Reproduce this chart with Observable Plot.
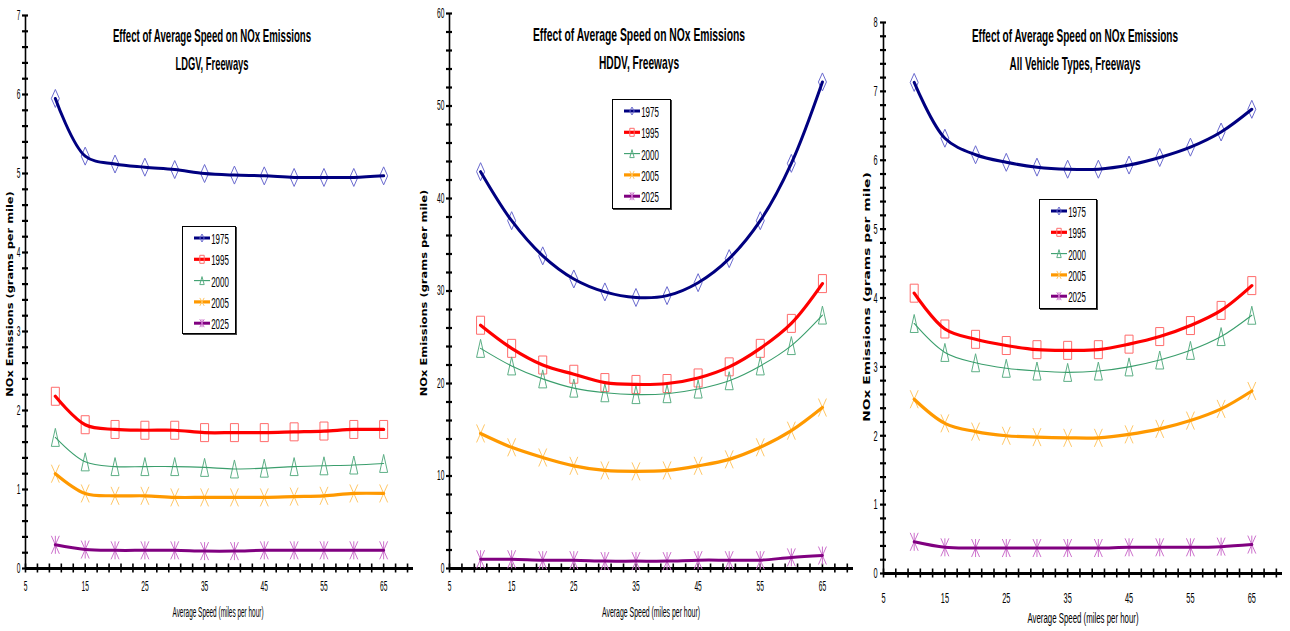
<!DOCTYPE html>
<html><head><meta charset="utf-8">
<script src="https://cdn.jsdelivr.net/npm/d3@7"></script>
<script src="https://cdn.jsdelivr.net/npm/@observablehq/plot@0.6"></script>
<style>
body{margin:0;background:#fff;}
#root{position:relative;width:1290px;height:631px;overflow:hidden;background:#fff;}
.abs{position:absolute;white-space:nowrap;line-height:1;color:#000;}
#root svg{overflow:visible;}
</style></head><body><div id="root"></div>
<script>
// ---------- data ----------
const speeds = [10,15,20,25,30,35,40,45,50,55,60,65];
const years = ["1975","1995","2000","2005","2025"];
const xTickLabels = [5,15,25,35,45,55,65];

const ldgv1975 = [5.95,5.22,5.12,5.08,5.05,5.00,4.98,4.97,4.95,4.95,4.95,4.97];
const ldgv1995 = [2.18,1.82,1.76,1.75,1.75,1.72,1.72,1.72,1.73,1.74,1.76,1.76];
const ldgv2000 = [1.66,1.35,1.29,1.29,1.29,1.28,1.26,1.27,1.29,1.30,1.31,1.33];
const ldgv2005 = [1.20,0.95,0.92,0.92,0.90,0.90,0.90,0.90,0.91,0.92,0.95,0.95];
const ldgv2025 = [0.30,0.24,0.23,0.23,0.23,0.22,0.22,0.23,0.23,0.23,0.23,0.23];

const hddv1975 = [42.9,37.6,33.8,31.3,29.9,29.3,29.5,30.9,33.5,37.6,43.8,52.6];
const hddv1995 = [26.3,23.8,22.0,21.0,20.1,19.9,20.0,20.6,21.8,23.8,26.5,30.8];
const hddv2000 = [23.8,21.9,20.5,19.5,19.0,18.8,18.9,19.4,20.3,21.9,24.1,27.4];
const hddv2005 = [14.6,13.1,12.0,11.1,10.6,10.5,10.6,11.1,11.8,13.1,14.9,17.4];
const hddv2025 = [1.0,1.0,0.9,0.9,0.8,0.8,0.8,0.9,0.9,0.9,1.2,1.4];

const all1975 = [7.13,6.32,6.08,5.97,5.90,5.87,5.87,5.93,6.04,6.19,6.41,6.74];
const all1995 = [4.07,3.55,3.40,3.31,3.25,3.24,3.25,3.33,3.44,3.60,3.82,4.18];
const all2000 = [3.63,3.21,3.06,2.98,2.94,2.92,2.94,3.00,3.10,3.24,3.44,3.75];
const all2005 = [2.53,2.18,2.06,2.00,1.98,1.97,1.97,2.02,2.10,2.22,2.39,2.65];
const all2025 = [0.46,0.38,0.37,0.37,0.37,0.37,0.37,0.38,0.38,0.38,0.39,0.42];

const mainTitle = "Effect of Average Speed on NOx Emissions";
const xLabel = "Average Speed (miles per hour)";
const yLabel = "NOx Emissions (grams per mile)";

// ---------- styles ----------
const lineColor = {"1975":"#000080","1995":"#FF0000","2000":"#3A9E6C","2005":"#FF9900","2025":"#800080"};
const lineWidth = {"1975":3,"1995":3.2,"2000":1.1,"2005":3.2,"2025":3};
const markColor = {"1975":"#6A6ACF","1995":"#FF6B6B","2000":"#5DAF86","2005":"#FFC766","2025":"#CC70CC"};

function makeSymbols(hw, hh) {
  return {
    "1975": {draw(c){c.moveTo(0,-hh);c.lineTo(hw,0);c.lineTo(0,hh);c.lineTo(-hw,0);c.closePath();}},
    "1995": {draw(c){c.moveTo(-hw,-hh);c.lineTo(hw,-hh);c.lineTo(hw,hh);c.lineTo(-hw,hh);c.closePath();}},
    "2000": {draw(c){c.moveTo(0,-hh);c.lineTo(hw,hh);c.lineTo(-hw,hh);c.closePath();}},
    "2005": {draw(c){c.moveTo(-hw,-hh);c.lineTo(hw,hh);c.moveTo(hw,-hh);c.lineTo(-hw,hh);}},
    "2025": {draw(c){c.moveTo(-hw,-hh);c.lineTo(hw,hh);c.moveTo(hw,-hh);c.lineTo(-hw,hh);c.moveTo(0,-hh);c.lineTo(0,hh);}}
  };
}
const plotSymbols = makeSymbols(4, 9);
const legendSymbols = makeSymbols(2.2, 4);

const FONT_N = '"Liberation Sans Narrow","Arial Narrow","Liberation Sans",Arial,sans-serif';
const FONT_Y = '"DejaVu Sans",Verdana,sans-serif';
const fmt = d3.format("~g");

const panels = [
  {left:0, width:430, mL:25, mR:17, mT:15, mB:63, yMax:7, minor:0.2, major:1,
   series:[ldgv1975,ldgv1995,ldgv2000,ldgv2005,ldgv2025], sub:"LDGV, Freeways",
   t1:[212,35,198], t2:[212,63,73], xl:[218,612,91], yl:[11,294,205,8],
   leg:[182,226,55,109], xpad:13, ypad:5, tfs:14, dw:3.7},
  {left:430, width:430, mL:19, mR:7, mT:13, mB:63, yMax:60, minor:2, major:10,
   series:[hddv1975,hddv1995,hddv2000,hddv2005,hddv2025], sub:"HDDV, Freeways",
   t1:[639,34,212], t2:[639,62,80], xl:[651,612,98], yl:[425,293,206,8],
   leg:[612,99,60,111], xpad:13, ypad:5, tfs:14, dw:3.7},
  {left:860, width:430, mL:23, mR:8, mT:22, mB:58, yMax:8, minor:0.2, major:1,
   series:[all1975,all1995,all2000,all2005,all2025], sub:"All Vehicle Types, Freeways",
   t1:[1075,35,206], t2:[1075,63,131], xl:[1083,618,111], yl:[867,297,249,9],
   leg:[1039,199,59,111], xpad:19, ypad:6, tfs:15, dw:4.1}
];

const root = document.getElementById("root");

function addText(txt, cx, cy, w, size, weight, family, rot) {
  const d = document.createElement("div");
  d.className = "abs";
  d.textContent = txt;
  d.style.fontSize = size + "px";
  d.style.fontWeight = weight;
  d.style.fontFamily = family;
  root.appendChild(d);
  const nw = d.offsetWidth;
  const s = w / nw;
  d.style.left = cx + "px";
  d.style.top = cy + "px";
  d.style.transform = `translate(-50%,-50%) ${rot ? "rotate(-90deg) " : ""}scaleX(${s})`;
  return d;
}

panels.forEach(p => {
  const data = years.flatMap((yr, i) => speeds.map((s, j) => ({speed: s, value: p.series[i][j], year: yr})));
  const eps = p.minor / 10;
  const marks = [
    Plot.ruleX([5], {strokeWidth: 1.6}),
    Plot.axisY({ticks: d3.range(0, p.yMax + eps, p.minor), tickSize: 6, dx: 3, tickFormat: () => "", strokeWidth: 2.2, label: null}),
    Plot.axisY({ticks: d3.range(0, p.yMax + eps, p.major), tickSize: 0, tickPadding: p.ypad, tickFormat: fmt, fontSize: p.tfs, fontFamily: FONT_N, label: null}),
    Plot.axisX({ticks: d3.range(5, 70.1, 2), tickSize: 9, dy: -4.5, tickFormat: () => "", strokeWidth: 1.6, label: null}),
    Plot.axisX({ticks: xTickLabels, tickSize: 0, tickPadding: p.xpad, tickFormat: fmt, fontSize: p.tfs, fontFamily: FONT_N, label: null}),
    Plot.ruleY([0], {strokeWidth: 3.2})
  ];
  years.forEach(yr => {
    const sub = data.filter(d => d.year === yr);
    marks.push(Plot.dot(sub, {x: "speed", y: "value", symbol: plotSymbols[yr], stroke: markColor[yr], fill: "none", strokeWidth: 1}));
  });
  years.forEach(yr => {
    const sub = data.filter(d => d.year === yr);
    marks.push(Plot.line(sub, {x: "speed", y: "value", stroke: lineColor[yr], strokeWidth: lineWidth[yr], curve: "catmull-rom"}));
  });
  const svg = Plot.plot({
    width: p.width, height: 631,
    marginLeft: p.mL, marginRight: p.mR, marginTop: p.mT, marginBottom: p.mB,
    x: {domain: [5, 70], label: null},
    y: {domain: [0, p.yMax], label: null},
    style: {background: "transparent", overflow: "visible", color: "#000"},
    marks
  });
  svg.style.position = "absolute";
  svg.style.left = p.left + "px";
  svg.style.top = "0px";
  root.appendChild(svg);
  // condense tick labels like the original
  svg.querySelectorAll('g[aria-label$="tick label"] text').forEach(t => {
    const n = t.textContent.length;
    if (!n) return;
    const len = t.getComputedTextLength();
    const s = (n * p.dw) / len;
    const tr = t.getAttribute("transform") || "";
    t.setAttribute("transform", tr + ` scale(${s},1)`);
  });

  // titles & labels
  addText(mainTitle, p.t1[0], p.t1[1], p.t1[2], 19, "bold", FONT_N, false);
  addText(p.sub, p.t2[0], p.t2[1], p.t2[2], 19, "bold", FONT_N, false);
  addText(xLabel, p.xl[0], p.xl[1], p.xl[2], 14, "normal", FONT_N, false);
  addText(yLabel, p.yl[0], p.yl[1], p.yl[2], p.yl[3], "bold", FONT_Y, true);

  // legend
  const [lx, ly, lw, lh] = p.leg;
  const box = document.createElement("div");
  box.className = "abs";
  box.style.left = lx + "px"; box.style.top = ly + "px";
  box.style.width = (lw - 3) + "px"; box.style.height = (lh - 3) + "px";
  box.style.border = "1.5px solid #000";
  box.style.boxShadow = "1px 1px 0 #444";
  box.style.background = "#fff";
  root.appendChild(box);
  const lsvg = d3.create("svg").attr("width", lw).attr("height", lh)
    .style("position", "absolute").style("left", lx + "px").style("top", ly + "px");
  years.forEach((yr, i) => {
    const yy = 12 + i * 21.3;
    lsvg.append("line").attr("x1", 12).attr("x2", 28).attr("y1", yy).attr("y2", yy)
      .attr("stroke", lineColor[yr]).attr("stroke-width", lineWidth[yr]);
    lsvg.append("path").attr("transform", `translate(20,${yy})`)
      .attr("d", d3.symbol(legendSymbols[yr])())
      .attr("fill", "none").attr("stroke", markColor[yr]).attr("stroke-width", 1);
  });
  root.appendChild(lsvg.node());
  years.forEach((yr, i) => {
    addText(yr, lx + 37.5, ly + 12 + i * 21.3, 17.5, 15, "normal", FONT_N, false);
  });
});
</script></body></html>
